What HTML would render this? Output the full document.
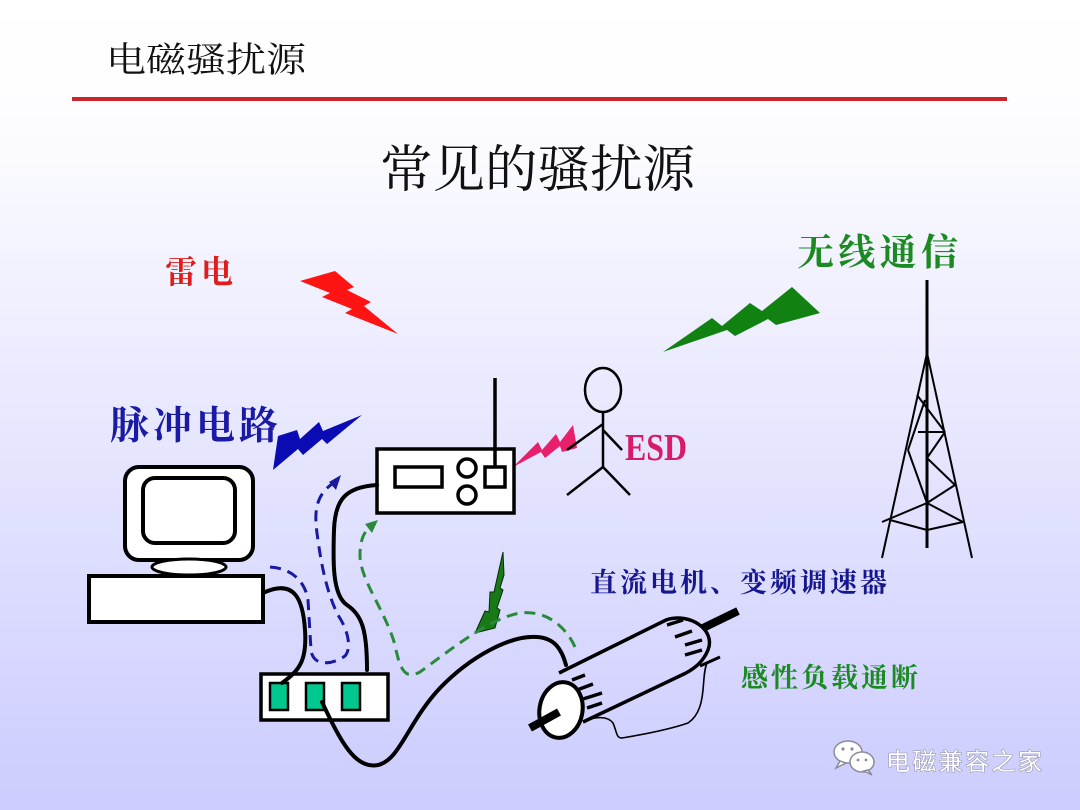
<!DOCTYPE html>
<html>
<head>
<meta charset="utf-8">
<style>
html,body{margin:0;padding:0;}
body{width:1080px;height:810px;overflow:hidden;background:linear-gradient(180deg,#ffffff 0%,#fdfdff 14%,#ccccff 100%);}
svg{position:absolute;left:0;top:0;}
.serif{font-family:"Liberation Serif","Noto Serif CJK SC",serif;}
.lab{font-family:"Liberation Serif","Noto Serif CJK SC",serif;font-weight:700;}
.sans{font-family:"Liberation Sans","Noto Sans CJK SC",sans-serif;}
</style>
</head>
<body>
<svg width="1080" height="810" viewBox="0 0 1080 810" xmlns="http://www.w3.org/2000/svg">
  <!-- header -->
  <text class="serif" x="106" y="72" font-size="35" fill="#111" textLength="200" lengthAdjust="spacingAndGlyphs">电磁骚扰源</text>
  <rect x="72" y="97" width="935" height="4" fill="#c8262b"/>
  <text class="serif" x="380" y="187" font-size="51" fill="#111" textLength="315" lengthAdjust="spacingAndGlyphs">常见的骚扰源</text>

  <!-- labels -->
  <text class="lab" x="165" y="283" font-size="32" fill="#e01c1c" textLength="68">雷电</text>
  <text class="lab" x="797" y="265" font-size="37" fill="#1c8a22" textLength="161">无线通信</text>
  <text class="lab" x="110" y="439" font-size="39" fill="#1a1aa4" textLength="168">脉冲电路</text>
  <text class="lab" x="590" y="592" font-size="27" fill="#16168f" textLength="297">直流电机、变频调速器</text>
  <text class="lab" x="741" y="687" font-size="27" fill="#1c8a22" textLength="177">感性负载通断</text>
  <text x="625" y="460" font-family="Liberation Serif,serif" font-weight="700" font-size="38" fill="#d81b68" textLength="62" lengthAdjust="spacingAndGlyphs">ESD</text>

  <!-- red lightning -->
  <polygon points="300,281 335,271 354,287 347,290 371,302 364,306 398,334 345,313 352,309 322,297 330,293" fill="#ff1414"/>
  <!-- green wireless lightning -->
  <polygon points="663,352 712,318 722,326 750,303 762,311 792,287 820,313 776,325 768,319 735,336 727,330" fill="#118211"/>
  <!-- blue pulse lightning -->
  <polygon points="273,470 278,436 297,430 300,439 319,422 323,431 362,415 327,444 322,439 303,455 298,449" fill="#0b0bb4"/>
  <!-- magenta ESD lightning -->
  <polygon points="513,467 538,442 542,450 556,434 560,442 573,425 577,448 562,452 560,446 545,458 541,452" fill="#e8206c"/>
  <!-- small green motor lightning -->
  <polygon points="503,552 504,575 500,588 503,590 497,608 500,610 495,628 475,633 485,611 489,612 490,592 494,592" fill="#177a17" stroke="#0a2a0a" stroke-width="1"/>

  <!-- computer -->
  <rect x="125" y="467" width="128" height="93" rx="14" fill="#fff" stroke="#000" stroke-width="4"/>
  <rect x="143" y="478" width="92" height="65" rx="12" fill="#fff" stroke="#000" stroke-width="4"/>
  <ellipse cx="189" cy="567" rx="37" ry="8" fill="#fff" stroke="#000" stroke-width="3"/>
  <rect x="89" y="576" width="174" height="46" fill="#fff" stroke="#000" stroke-width="4"/>

  <!-- hub -->
  <rect x="261" y="674" width="127" height="46" fill="#fff" stroke="#000" stroke-width="3.5"/>
  <rect x="270" y="683" width="18" height="27" fill="#00c88e" stroke="#000" stroke-width="2.5"/>
  <rect x="306" y="683" width="18" height="27" fill="#00c88e" stroke="#000" stroke-width="2.5"/>
  <rect x="342" y="683" width="18" height="27" fill="#00c88e" stroke="#000" stroke-width="2.5"/>

  <!-- radio -->
  <rect x="377" y="449" width="137" height="64" fill="#fff" stroke="#000" stroke-width="3.5"/>
  <rect x="395" y="467" width="47" height="20" fill="#fff" stroke="#000" stroke-width="3.5"/>
  <circle cx="467" cy="468" r="9" fill="#fff" stroke="#000" stroke-width="3.5"/>
  <circle cx="467" cy="495" r="9" fill="#fff" stroke="#000" stroke-width="3.5"/>
  <rect x="485" y="467" width="20" height="20" fill="#fff" stroke="#000" stroke-width="3.5"/>
  <line x1="495" y1="378" x2="495" y2="467" stroke="#000" stroke-width="3.5"/>

  <!-- cables -->
  <g fill="none" stroke="#000" stroke-width="4" stroke-linecap="round">
    <path d="M263,593 C295,578 303,600 305,630 C307,660 300,670 282,683"/>
    <path d="M367,670 C367,630 362,615 347,605 C332,595 333,560 334,530 C335,500 345,487 377,485"/>
    <path d="M322,702 C340,740 355,770 378,765 C400,760 408,722 440,688 C470,657 510,635 537,637 C555,638 562,650 566,665"/>
  </g>

  <!-- blue dashed arrow -->
  <path d="M270,567 C290,568 305,580 308,600 L311,650 C313,667 332,665 345,656 C352,648 348,630 338,615 C328,595 322,570 318,540 C314,515 314,497 332,484" fill="none" stroke="#1a1aa0" stroke-width="3" stroke-dasharray="11,7"/>
  <polygon points="341,475 329,482 336,490" fill="#1a1aa0"/>

  <!-- green dashed arrow -->
  <path d="M575,647 C565,625 545,610 520,613 C490,618 450,650 420,672 C405,680 400,670 395,645 C385,610 360,580 360,555 C360,540 364,532 370,527" fill="none" stroke="#2a8a3a" stroke-width="3" stroke-dasharray="11,7"/>
  <polygon points="378,520 365,524 372,533" fill="#2a8a3a"/>

  <!-- stick figure -->
  <g fill="none" stroke="#000" stroke-width="2.5">
    <ellipse cx="603" cy="390" rx="18" ry="22"/>
    <line x1="603" y1="412" x2="603" y2="467"/>
    <line x1="603" y1="424" x2="567" y2="450"/>
    <line x1="603" y1="430" x2="622" y2="450"/>
    <line x1="603" y1="467" x2="567" y2="495"/>
    <line x1="603" y1="467" x2="630" y2="495"/>
  </g>

  <!-- motor -->
  <g fill="none" stroke="#000">
    <line x1="703" y1="628" x2="738" y2="611" stroke-width="8"/>
    <path d="M559,673 L666,620 C690,612 716,630 708,650 C703,662 695,668 686,673" stroke-width="3.5"/>
    <line x1="583" y1="722" x2="686" y2="673" stroke-width="3.5"/>
    <line x1="700" y1="666" x2="720" y2="657" stroke-width="3"/>
    <path d="M583,722 C595,716 608,716 613,723 C617,732 616,738 622,738 C640,735 668,730 688,723 C700,715 702,700 703,690 C704,680 704,670 707,663" stroke-width="1.6"/>
    <g stroke-width="3.5">
      <line x1="572" y1="680" x2="585" y2="675"/>
      <line x1="577" y1="690" x2="593" y2="684"/>
      <line x1="583" y1="699" x2="602" y2="693"/>
      <line x1="587" y1="708" x2="602" y2="703"/>
      <line x1="667" y1="625" x2="683" y2="620"/>
      <line x1="675" y1="637" x2="692" y2="631"/>
      <line x1="685" y1="645" x2="702" y2="640"/>
      <line x1="685" y1="655" x2="702" y2="650"/>
    </g>
    <ellipse cx="561" cy="710" rx="21.5" ry="28" transform="rotate(10 561 710)" fill="#fff" stroke-width="4"/>
    <line x1="530" y1="728" x2="559" y2="712" stroke-width="8"/>
  </g>

  <!-- tower -->
  <g stroke="#000" stroke-width="2" fill="none">
    <line x1="927" y1="280" x2="927" y2="548" stroke-width="3"/>
    <line x1="927" y1="353" x2="882" y2="558"/>
    <line x1="927" y1="353" x2="972" y2="558"/>
    <line x1="917" y1="395" x2="945" y2="432"/>
    <line x1="925" y1="400" x2="908" y2="450"/>
    <line x1="908" y1="450" x2="927" y2="503"/>
    <line x1="918" y1="432" x2="945" y2="432"/>
    <line x1="945" y1="432" x2="927" y2="458"/>
    <line x1="927" y1="458" x2="955" y2="485"/>
    <line x1="955" y1="485" x2="927" y2="503"/>
    <line x1="927" y1="503" x2="882" y2="522"/>
    <line x1="927" y1="503" x2="963" y2="522"/>
    <line x1="890" y1="520" x2="927" y2="530"/>
    <line x1="927" y1="530" x2="963" y2="522"/>
  </g>

  <!-- watermark -->
  <g stroke="#8a8a9a" stroke-width="1.5" fill="#fff">
    <ellipse cx="848" cy="752" rx="14" ry="11"/>
    <path d="M840,761 L836,768 L846,763 Z"/>
    <ellipse cx="862" cy="762" rx="12" ry="10"/>
    <path d="M868,770 L872,775 L864,771 Z"/>
  </g>
  <g fill="#8a8a9a">
    <circle cx="843" cy="749" r="1.6"/><circle cx="852" cy="749" r="1.6"/>
    <circle cx="858" cy="760" r="1.4"/><circle cx="866" cy="760" r="1.4"/>
  </g>
  <text class="sans" x="886" y="770" font-size="24" fill="#fff" stroke="#8a8aa0" stroke-width="1" paint-order="stroke" textLength="156">电磁兼容之家</text>
</svg>
</body>
</html>
